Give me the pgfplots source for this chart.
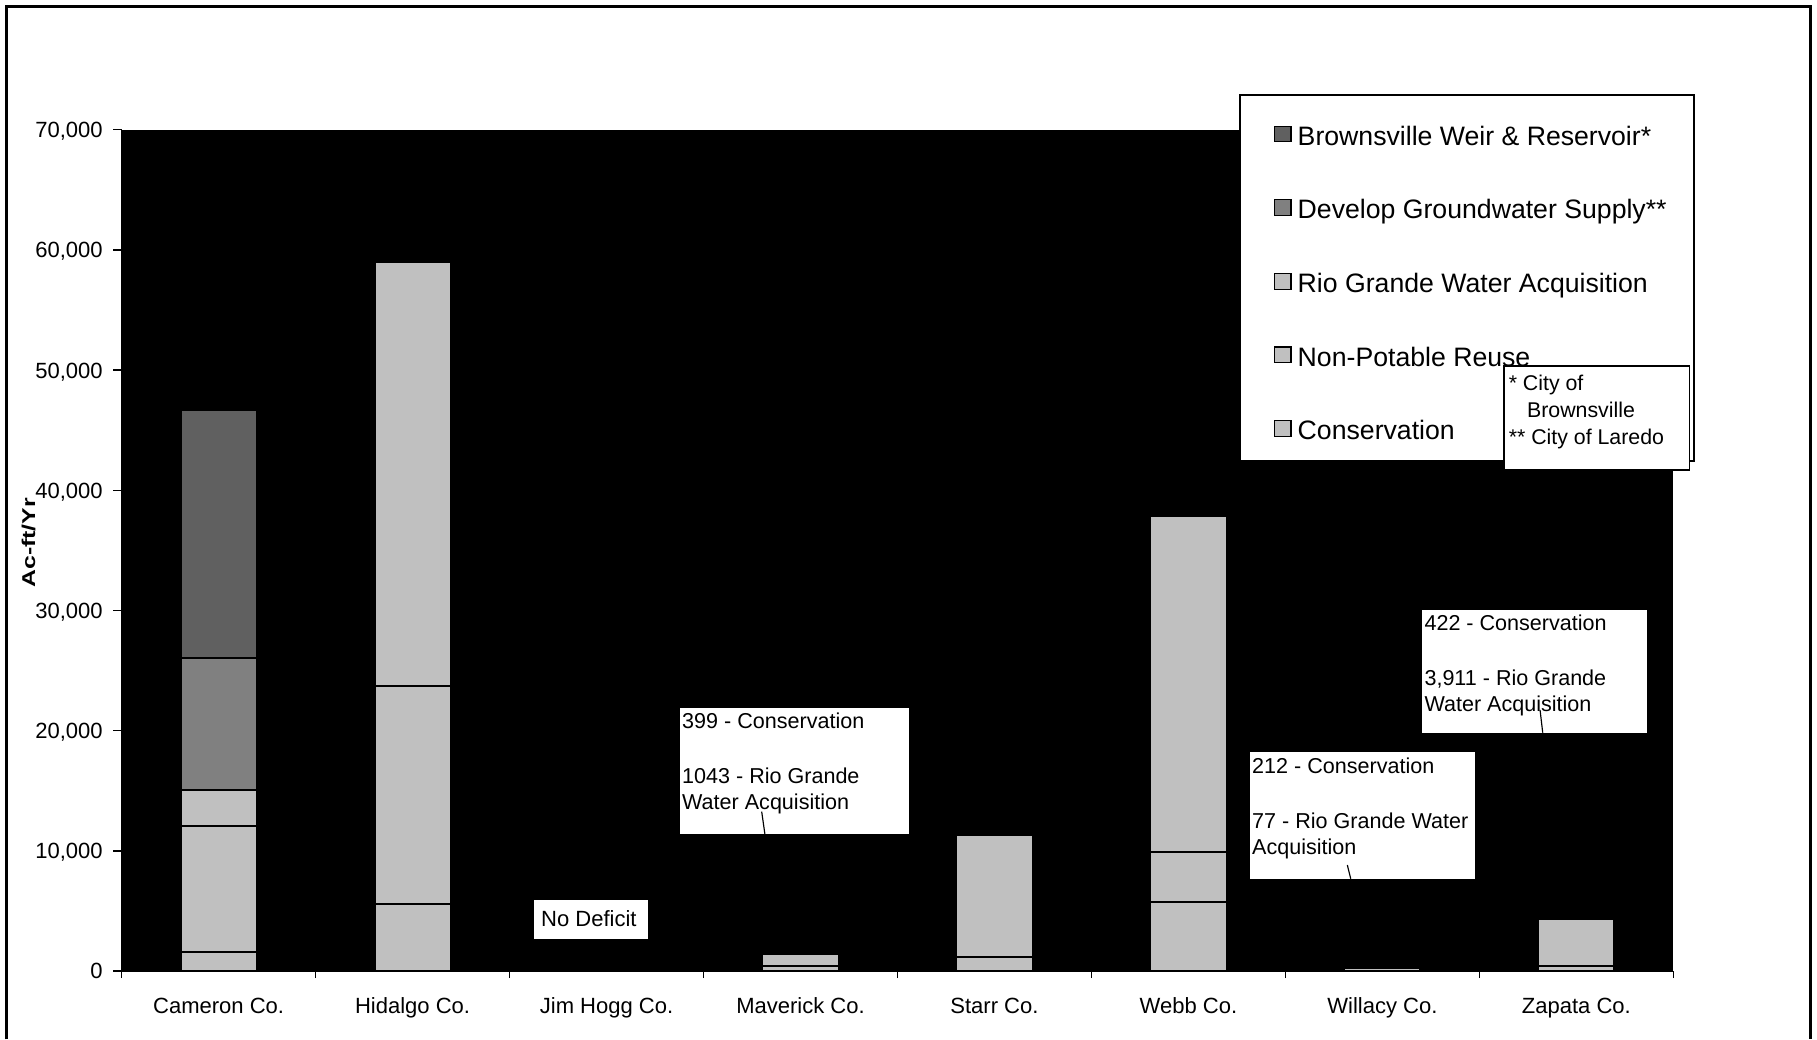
\documentclass[border=0pt]{standalone}
\usepackage{pgfplots}
\usepackage{pgfplotstable}
\usepackage{fontspec}
\usepackage{graphicx}
\pgfplotsset{compat=1.18}
\setmainfont{Liberation Sans}

\definecolor{lgray}{RGB}{192,192,192}
\definecolor{mgray}{RGB}{128,128,128}
\definecolor{dgray}{RGB}{96,96,96}

% Additional supply by strategy and county, Ac-ft/Yr
\pgfplotstableread{
x cons   npr    rg     gw     bw
0 1570   10490  3000   11000  20610
1 5550   18150  35260  0      0
2 0      0      0      0      0
3 399    0      1043   0      0
4 1140   0      10180  0      0
5 5770   4160   27900  0      0
6 212    0      77     0      0
7 422    0      3911   0      0
}\supply

\pgfplotsset{
  sqlegend/.style={legend image code/.code={
      \draw[##1,draw=black,line width=0.5pt] (0pt,-2.75pt) rectangle (7pt,4.05pt);
      \path[draw=none,fill=none] (0pt,0pt) -- (9.9pt,0pt);}},
}

\begin{document}
\begin{tikzpicture}
\useasboundingbox (0,0) rectangle (784pt,448.5pt);
% chart frame
\draw[line width=1.3pt] (3pt,0) -- (3pt,445.5pt) -- (781pt,445.5pt) -- (781pt,0);
\begin{axis}[
  at={(52.5pt,29.5pt)}, anchor=south west,
  scale only axis, width=669.5pt, height=363pt,
  ybar stacked, bar width=0.392,
  xmin=-0.5, xmax=7.5, ymin=0, ymax=70000,
  axis x line*=bottom, axis y line*=left,
  axis line style={line width=0.6pt},
  axis background/.style={fill=black},
  clip=false,
  tick align=outside,
  tick style={black, line width=0.6pt},
  xtick={0,...,7},
  xticklabels={Cameron Co., Hidalgo Co., Jim Hogg Co., Maverick Co., Starr Co., Webb Co., Willacy Co., Zapata Co.},
  major x tick style={draw=none},
  minor xtick={-0.5,0.5,...,7.5},
  minor tick length=3pt,
  ytick={0,10000,...,70000},
  major tick length=3.6pt,
  scaled y ticks=false,
  /pgf/number format/1000 sep={,},
  /pgf/number format/assume math mode=true,
  xticklabel style={font=\fontsize{9.5}{11}\selectfont, anchor=north, inner sep=0pt, text height=6.8pt, text depth=0pt, yshift=-7.6pt},
  yticklabel style={font=\fontsize{9.5}{11}\selectfont, anchor=east, inner sep=0pt, text height=6.8pt, text depth=0pt, xshift=-4.4pt},
  ylabel={\scalebox{1.34}[1]{Ac-ft/Yr}},
  ylabel style={font=\fontsize{8}{9.6}\selectfont\bfseries, at={(axis description cs:-0.060,0.509)}, anchor=center},
  legend style={at={(0.7425,1.0056)}, anchor=north west, draw=none, fill=none,
    inner sep=0pt, row sep=23.33pt, font=\fontsize{11.5}{13}\selectfont,
    nodes={inner sep=0pt, text height=8.3pt, text depth=0pt}},
  legend cell align=left,
  reverse legend,
]
% legend frame
\draw[fill=white, line width=0.7pt] (rel axis cs:0.72069,1.04132) rectangle (rel axis cs:1.01344,0.60606);

\addplot[fill=lgray, draw=black, line width=0.8pt, sqlegend] table[x=x, y=cons] {\supply};
\addlegendentry{Conservation}
\addplot[fill=lgray, draw=black, line width=0.8pt, sqlegend] table[x=x, y=npr] {\supply};
\addlegendentry{Non-Potable Reuse}
\addplot[fill=lgray, draw=black, line width=0.8pt, sqlegend] table[x=x, y=rg] {\supply};
\addlegendentry{Rio Grande Water Acquisition}
\addplot[fill=mgray, draw=black, line width=0.8pt, sqlegend] table[x=x, y=gw] {\supply};
\addlegendentry{Develop Groundwater Supply**}
\addplot[fill=dgray, draw=black, line width=0.8pt, sqlegend] table[x=x, y=bw] {\supply};
\addlegendentry{Brownsville Weir \& Reservoir*}
\end{axis}

% callouts
\fill[white] (230.4pt,60.15pt) rectangle (279.45pt,43.2pt);
\node[anchor=north west, inner sep=0pt, font=\fontsize{9.5}{11}\selectfont] at (233.3pt,55.8pt) {No Deficit};

\fill[white] (293.4pt,142.85pt) rectangle (392.2pt,88.5pt);
\node[anchor=north west, inner sep=0pt, align=left, font=\fontsize{9.3}{11.35}\selectfont] at (294.15pt,141.2pt)
  {399 - Conservation\\[12.45pt]1043 - Rio Grande\\Water Acquisition};
\draw[line width=0.5pt] (328.65pt,98.3pt) -- (330.1pt,88.2pt);

\fill[white] (539.35pt,123.9pt) rectangle (636.45pt,69.35pt);
\node[anchor=north west, inner sep=0pt, align=left, font=\fontsize{9.3}{11.35}\selectfont] at (540.1pt,121.7pt)
  {212 - Conservation\\[12.45pt]77 - Rio Grande Water\\Acquisition};
\draw[line width=0.5pt] (581.35pt,75.25pt) -- (582.8pt,69.35pt);

\fill[white] (613.55pt,185.3pt) rectangle (710.55pt,132.35pt);
\node[anchor=north west, inner sep=0pt, align=left, font=\fontsize{9.3}{11.35}\selectfont] at (614.45pt,183.6pt)
  {422 - Conservation\\[12.45pt]3,911 - Rio Grande\\Water Acquisition};
\draw[line width=0.5pt] (664.5pt,142.15pt) -- (665.65pt,132.35pt);

% footnote box
\draw[fill=white, line width=0.6pt] (649pt,290.5pt) rectangle (729pt,245.7pt);
\node[anchor=north west, inner sep=0pt, align=left, font=\fontsize{9.2}{11.6}\selectfont] at (650.8pt,286.7pt)
  {* City of\\\hspace*{7.9pt}Brownsville\\** City of Laredo};
\end{tikzpicture}
\end{document}
